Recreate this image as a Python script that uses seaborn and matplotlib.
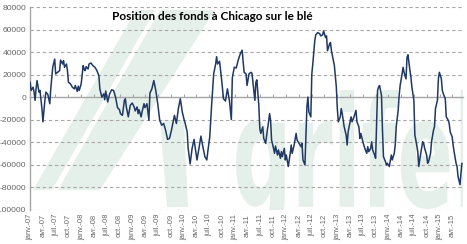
import numpy as np
import pandas as pd
import matplotlib
matplotlib.use("Agg")
import matplotlib.pyplot as plt
import matplotlib.dates as mdates
from matplotlib.patches import Polygon, PathPatch
from matplotlib.textpath import TextPath
from matplotlib.font_manager import FontProperties
from matplotlib.transforms import Affine2D
import seaborn as sns

# --- DATA: net position of funds on Chicago wheat (contracts), weekly ---
weeks = [
    0, 1, 3, 4, 5, 6, 7, 9, 10, 12, 13, 15, 16, 18, 20, 21, 23, 25, 26, 28, 30, 31, 33, 34,
    35, 37, 38, 39, 41, 43, 45, 46, 48, 49, 50, 52, 54, 55, 56, 57, 59, 60, 62, 64, 66, 68, 70,
    71, 73, 75, 76, 77, 79, 81, 83, 85, 87, 89, 91, 92, 94, 96, 97, 98, 100, 102, 104, 106, 107,
    109, 110, 111, 113, 114, 116, 117, 119, 121, 122, 124, 126, 128, 130, 132, 134, 136, 138,
    140, 142, 144,
    147, 149, 151, 153, 155, 157, 158, 160, 161, 163, 165, 167, 169, 170, 172, 174, 176, 178,
    180, 181, 183, 185, 187, 189, 190, 191, 193, 195, 197, 199, 201, 203, 205, 206, 208, 210,
    212, 214, 216, 218, 220,
    221, 223, 225, 226, 227, 229, 230, 231, 233, 234, 235, 237, 238, 240, 241, 242, 244, 245,
    246, 248, 249, 250, 252, 253, 255, 256, 257, 259, 260, 261, 263, 265, 266, 267, 269, 271,
    272, 273, 276, 277, 278, 280, 282, 283, 284, 286, 287, 288, 290,
    291, 293, 295, 296, 298, 299, 301, 302, 303, 305, 306, 307, 309, 310, 312, 313, 314, 316,
    317, 318, 320, 322, 323, 324, 326, 327, 328, 330, 332, 333, 335, 336, 337, 339, 340, 341,
    343, 344, 345, 347, 348, 349, 351, 352, 354, 355, 356, 358, 359, 360, 362, 363,
    364, 366, 368, 369, 371, 372, 373, 375, 376, 377, 379, 380, 381, 383, 384, 385, 387, 388,
    389, 391, 392, 393, 395, 396, 398, 400, 401, 402, 404, 405, 406, 408, 409, 411, 412, 413,
    415, 416, 417, 419, 420, 421, 423, 424, 426, 427, 428, 430, 431, 432, 434, 435, 436, 438,
    439, 440,
]
net_position = [
    13200, 5900, 8800, 4400, -2900, 7300, 14700, 4400, 5900, -10300, -22000, -2900, 4400, 2400,
    -5900, 7300, 26500, 33800, 20600, 22000, 23500, 32900, 29400, 32300, 26500, 29400, 23500,
    13200, 11800, 8800, 7300, 10300, 5000, 9700, 5900, 11800, 27900, 25000, 23500, 27000, 25000,
    29400, 30300, 27900, 26500, 23500, 19100,
    7300, 0, 2900, -2400, 5300, -4400, 2900, 6500, 5900, 0, -9400, -11200, -14700, -16200, -2900,
    -1500, -8800, -17600, -7300, -5300, -8800, -12300, -8800, -14700, -11200, -17600, -13200,
    -5900, -9400, -5900, -20600, 3500, 7300, 14700, 5900, -5900, -20600, -25000, -23500, -29400,
    -37600, -36700, -29400,
    -16200, -23500, -10300, -1500, -13200, -20600, -23500, -30900, -45600, -59400, -45600, -37600,
    -50000, -55900, -45600, -34700, -44100, -52900, -55900, -48500, -35300, -5900, 20600, 29400,
    35900, 29400, 31800, 16200, -1500, -3500, 7300, -2900, -20000, 17100, 26500, 25900, 32900,
    38200, 41700, 22000, 20600,
    10300, 20600, 22000, 21200, 13200, -2900, 13200, 15300, -7300, -27900, -32300, -26500, -36700,
    -41200, -33800, -27900, -14700, -20600, -38200, -45600, -50000, -43500, -51500, -47000, -54400,
    -48500, -52900, -45600, -55900, -51500, -61700, -50000, -42600, -50000, -42600, -32300, -38200,
    -39700, -44100, -41200, -55900, -60300, -8800, 0, -13200, -17600, 20600, 29400, 50000,
    55300, 57300, 56400, 54400, 55300, 58800, 52900, 54400, 41200, 47000, 48500, 41200, 32300,
    27900, 8800, -10300, -22000, -17600, -10300, -14700, -26500, -33800, -42600, -30900, -22000,
    -17600, -22000, -17600, -11800, -22000, -26500, -36700, -32300, -39700, -42600, -45600, -50000,
    -44100, -48500, -45600, -39700, -47000, -51500, -54400, 5900, 8800, 10300, 1500, -29400,
    -52900, -57300, -60300,
    -58800, -61700, -51500, -55900, -50000, -42600, -26500, -11800, 1500, 10300, 20600, 26500,
    22000, 16200, 35300, 37600, 23500, 17600, 8800, -2900, -33800, -38200, -48500, -61700, -50000,
    -39700, -41200, -45600, -51500, -58800, -57300, -50000, -39700, -29400, -26500, -10300, -2900,
    16200, 22000, 16200, 5900, 2900, -1500, -17600, -20600, -23500, -30900, -35300, -42600,
    -48500, -58800, -61700, -70600, -77900, -67600, -58800,
]
first_report = "2007-01-02"
month_names = ["janv.", "avr.", "juil.", "oct."]
y_ticks = list(range(-100000, 80001, 20000))
title = "Position des fonds à Chicago sur le blé"

# --- STYLE ---
LINE_BLUE = "#1f3864"
GRID_GREY = "#a6a6a6"
TEXT_GREY = "#666666"
LOGO_GREEN = "#e6f0ea"

sns.set_theme(style="white")
plt.rcParams["font.family"] = ["Liberation Sans", "DejaVu Sans"]

df = pd.DataFrame({
    "date": pd.Timestamp(first_report) + pd.to_timedelta(np.array(weeks) * 7, unit="D"),
    "position": net_position,
})

quarters = pd.date_range("2007-01-01", "2015-04-01", freq="QS")
q_labels = [f"{month_names[(d.month - 1) // 3]}-{d.year % 100:02d}" for d in quarters]
q_pos = mdates.date2num(quarters)

fig, ax = plt.subplots(figsize=(4.67, 2.44), dpi=100)
fig.subplots_adjust(left=0.064, right=0.991, top=0.971, bottom=0.141)

# watermark (Agrifel logo, pale green)
def px(x, y):
    return (x / 467, 1 - y / 244)

for poly in [
    [(33, 190), (52, 190), (155, 10), (136, 10)],
    [(58, 190), (100, 190), (215, 10), (160, 10)],
    [(160, 120), (184, 120), (188, 207), (167, 207)],
]:
    p = Polygon([px(*pt) for pt in poly], closed=True, transform=fig.transFigure,
                facecolor=LOGO_GREEN, edgecolor="none", zorder=0)
    ax.add_artist(p)
    p.set_clip_path(ax.patch)

tp = TextPath((0, 0), "grifel", size=100, prop=FontProperties(family="DejaVu Sans", weight="bold"))
bb = tp.get_extents()
x0, x1, ytop, ybot = 236, 475, 90, 240
tr = (Affine2D().translate(-bb.x0, -bb.y0)
      .scale((x1 - x0) / bb.width / 467, (ybot - ytop) / bb.height / 244)
      .translate(x0 / 467, 1 - ybot / 244))
logo = PathPatch(tr.transform_path(tp), transform=fig.transFigure,
                 facecolor=LOGO_GREEN, edgecolor="none", zorder=0)
ax.add_artist(logo)
logo.set_clip_path(ax.patch)

# grid lines
for v in y_ticks:
    if v == 0:
        continue
    ax.axhline(v, color=GRID_GREY, lw=0.8, ls=(0, (3, 2.5)), zorder=1)

sns.lineplot(data=df, x="date", y="position", ax=ax, color=LINE_BLUE, lw=1.1, zorder=3)

ax.set_ylim(-100000, 80000)
ax.set_xlim(pd.Timestamp("2006-12-31"), pd.Timestamp("2015-06-15"))
ax.set_yticks(y_ticks)
ax.set_yticklabels([str(v) for v in y_ticks])
ax.set_xticks(q_pos)
ax.set_xticklabels(q_labels, rotation=90)
ax.set_xlabel("")
ax.set_ylabel("")
ax.tick_params(axis="x", length=0, labelsize=5.4, labelcolor=TEXT_GREY, pad=3)
ax.tick_params(axis="y", length=0, labelsize=6.1, labelcolor=TEXT_GREY, pad=2.5)

for s in ["top", "right", "bottom"]:
    ax.spines[s].set_visible(False)
ax.spines["left"].set_color(GRID_GREY)
ax.spines["left"].set_linewidth(1.0)

# horizontal axis crossing at zero, with quarterly tick marks
zero_frac = (0 - (-100000)) / (80000 - (-100000))
sec = ax.secondary_xaxis(location=zero_frac)
sec.set_xticks(q_pos)
sec.set_xticklabels([])
sec.tick_params(length=2.5, width=0.8, color=GRID_GREY, direction="out")
for s in sec.spines.values():
    s.set_color(GRID_GREY)
    s.set_linewidth(1.0)

ax.text(0.19, 0.955, title, transform=ax.transAxes, ha="left", va="center",
        fontsize=8.5, fontweight="bold", family=["Lato", "DejaVu Sans"], color="black", zorder=4)

fig.savefig("out.png", dpi=100)
